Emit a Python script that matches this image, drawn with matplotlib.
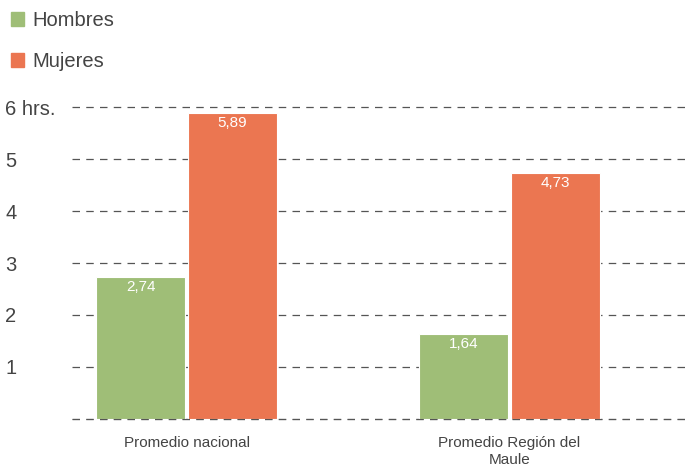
import matplotlib.pyplot as plt
import numpy as np
from matplotlib.patches import Patch

plt.rcParams['font.family'] = ['Liberation Sans', 'DejaVu Sans']

categorias = ['Promedio nacional', 'Promedio Región del\nMaule']
hombres = [2.74, 1.64]
mujeres = [5.89, 4.73]
yticks = [0, 1, 2, 3, 4, 5, 6]
ytick_labels = ['', '1', '2', '3', '4', '5', '6 hrs.']

verde = '#9fbe77'
naranjo = '#eb7651'
gris = '#444444'

fig = plt.figure(figsize=(6.87, 4.68), dpi=100)
ax = fig.add_axes([72 / 687, 49 / 468, 615 / 687, 312 / 468])

x = np.arange(len(categorias))
w = 0.274
off = 0.1424
b1 = ax.bar(x - off, hombres, w, color=verde, edgecolor='white', linewidth=0.8, zorder=3)
b2 = ax.bar(x + off, mujeres, w, color=naranjo, edgecolor='white', linewidth=0.8, zorder=3)

# etiquetas de valor dentro de cada barra
for bars, vals in ((b1, hombres), (b2, mujeres)):
    for r, v in zip(bars, vals):
        ax.annotate(f'{v:.2f}'.replace('.', ','), (r.get_x() + r.get_width() / 2, v),
                    xytext=(0, -7.5), textcoords='offset points',
                    ha='center', va='center', color='white', fontsize=11, zorder=4)

ax.set_xlim(-0.3545, 1.5495)
ax.set_ylim(0, 6)
ax.set_yticks(yticks)
ax.set_yticklabels(ytick_labels, fontsize=14.5, color=gris)
for lab in ax.get_yticklabels():
    lab.set_horizontalalignment('left')
ax.tick_params(axis='y', length=0, pad=48)
ax.set_xticks(x)
ax.set_xticklabels(categorias, fontsize=11, color=gris, linespacing=1.3)
ax.tick_params(axis='x', length=0, pad=12)

ax.yaxis.grid(True, color='#555555', linestyle=(0, (6, 5)), linewidth=0.9, zorder=0)
for gl in ax.get_ygridlines():
    gl.set_clip_on(False)
ax.axhline(0, color='#555555', linestyle=(0, (6, 5)), linewidth=0.9, alpha=0.5,
           zorder=5, clip_on=False)
for s in ax.spines.values():
    s.set_visible(False)
ax.set_axisbelow(True)

handles = [Patch(color=verde), Patch(color=naranjo)]
fig.legend(handles, ['Hombres', 'Mujeres'], loc='upper left',
           bbox_to_anchor=(0.0, 1.0), frameon=False, fontsize=14.5,
           labelcolor=gris, handlelength=0.65, handleheight=0.65,
           handletextpad=0.4, labelspacing=1.1, borderaxespad=0.0,
           borderpad=0.55)

fig.savefig('out.png', dpi=100)
